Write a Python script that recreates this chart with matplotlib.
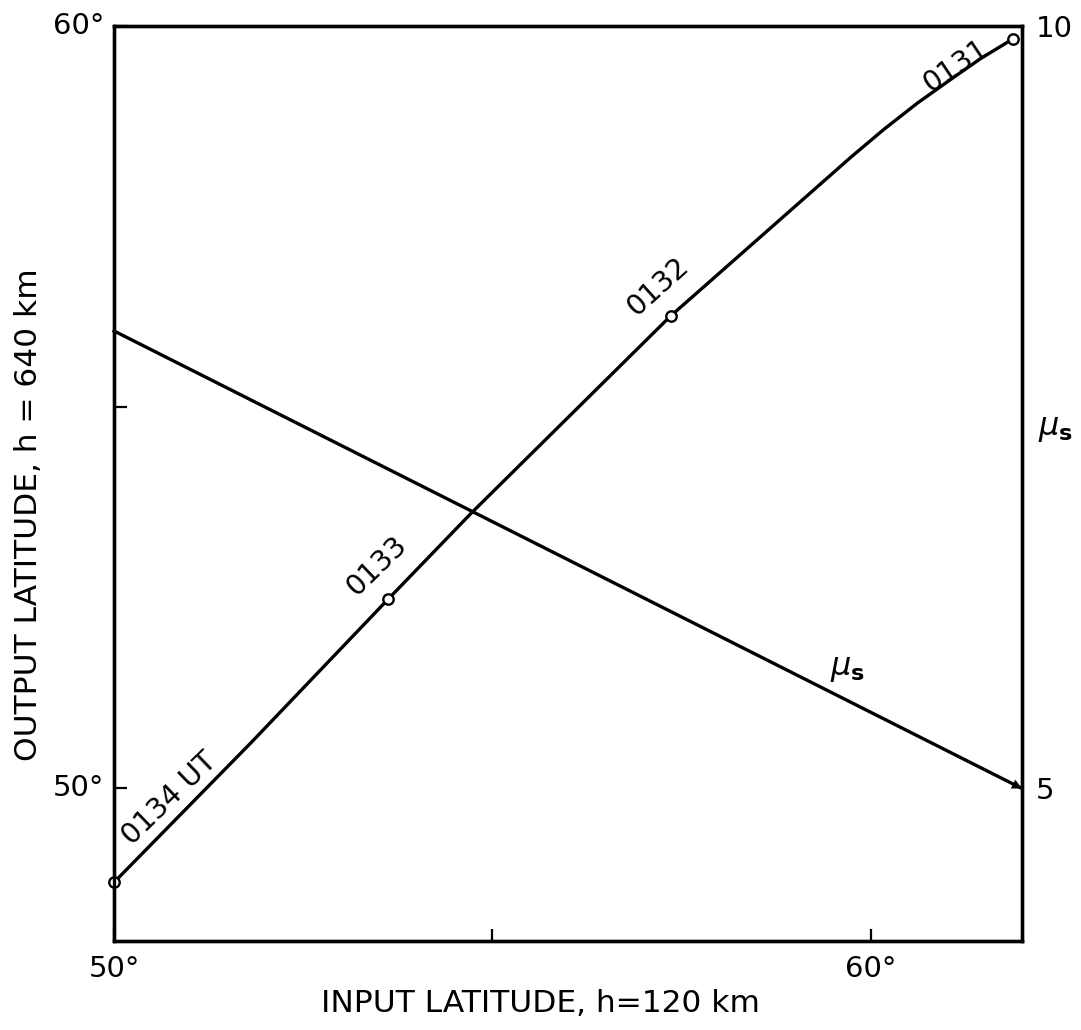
import matplotlib
matplotlib.use("Agg")
import matplotlib.pyplot as plt

plt.rcParams['font.family'] = ['DejaVu Sans']
plt.rcParams['mathtext.fontset'] = 'dejavusans'

# Mapping curve: input latitude (h = 120 km) -> output latitude (h = 640 km)
input_lat = [50.0, 51.81, 53.62, 54.72, 57.36, 57.75, 59.74, 60.17, 60.62, 61.06, 61.45, 61.88]
output_lat = [48.77, 50.60, 52.48, 53.61, 56.20, 56.54, 58.28, 58.64, 58.99, 59.30, 59.57, 59.83]

# Time marks along the curve (UT)
time_labels = ["0134 UT", "0133", "0132", "0131"]
time_in = [50.0, 53.62, 57.36, 61.88]
time_out = [48.77, 52.48, 56.20, 59.83]

# Scale factor mu_s against input latitude (right axis)
mu_in = [50.0, 62.0]
mu_val = [8.0, 5.0]

xticks = [50, 55, 60]
xticklabels = ["50°", "", "60°"]
yticks = [50, 55, 60]
yticklabels = ["50°", "", "60°"]
rticks = [5, 10]
rticklabels = ["5", "10"]

fig = plt.figure(figsize=(10.81, 10.30), dpi=100)
ax = fig.add_axes([0.1055, 0.0864, 0.8399, 0.8884])
ax.set_xlim(50, 62)
ax.set_ylim(48, 60)

lw = 2.4
ax.plot(input_lat, output_lat, color="black", lw=lw, solid_capstyle="round",
        solid_joinstyle="round", zorder=3)
ax.plot(time_in, time_out, linestyle="none", marker="o", ms=7.5,
        mfc="white", mec="black", mew=1.7, zorder=5, clip_on=False)

# Labels for the time marks, written along the curve
label_pos = [(50.73, 49.87, 44), (53.47, 52.92, 44), (57.18, 56.58, 42), (61.12, 59.47, 34)]
for txt, (lx, ly, rot) in zip(time_labels, label_pos):
    ax.text(lx, ly, txt, rotation=rot, ha="center", va="center",
            fontsize=20.5, rotation_mode="anchor")

ax.set_xticks(xticks)
ax.set_xticklabels(xticklabels, fontsize=21)
ax.set_yticks(yticks)
ax.set_yticklabels(yticklabels, fontsize=21)
ax.tick_params(direction="in", length=9, width=1.6)
ax.tick_params(axis="x", pad=10)
ax.tick_params(axis="y", pad=7)
for lab in ax.get_yticklabels():
    lab.set_verticalalignment("center")

for sp in ax.spines.values():
    sp.set_linewidth(2.4)

ax.set_xlabel("INPUT LATITUDE, h=120 km", fontsize=22.5)
ax.xaxis.set_label_coords(0.47, -0.052)
ax.set_ylabel("OUTPUT LATITUDE, h = 640 km", fontsize=22.5)
ax.yaxis.set_label_coords(-0.078, 0.466)

# Right axis for mu_s
ax2 = ax.twinx()
ax2.set_ylim(4, 10)
ax2.plot(mu_in, mu_val, color="black", lw=lw, zorder=3, clip_on=False)
ax2.annotate("", xy=(mu_in[1], mu_val[1]), xytext=(61.55, 5.11),
             arrowprops=dict(arrowstyle="-|>", color="black", lw=0,
                             mutation_scale=18, shrinkA=0, shrinkB=0))
ax2.set_yticks(rticks)
ax2.set_yticklabels(rticklabels, fontsize=21)
ax2.tick_params(axis="y", length=0, pad=10)
for sp in ax2.spines.values():
    sp.set_linewidth(2.4)

mu_label = r"$\mu_{\mathbf{s}}$"
ax.text(59.69, 51.57, mu_label, fontsize=23, ha="center", va="center")
ax.text(1.037, 0.56, mu_label, fontsize=23, ha="center", va="center",
        transform=ax.transAxes)

fig.savefig("out.png", dpi=100)
